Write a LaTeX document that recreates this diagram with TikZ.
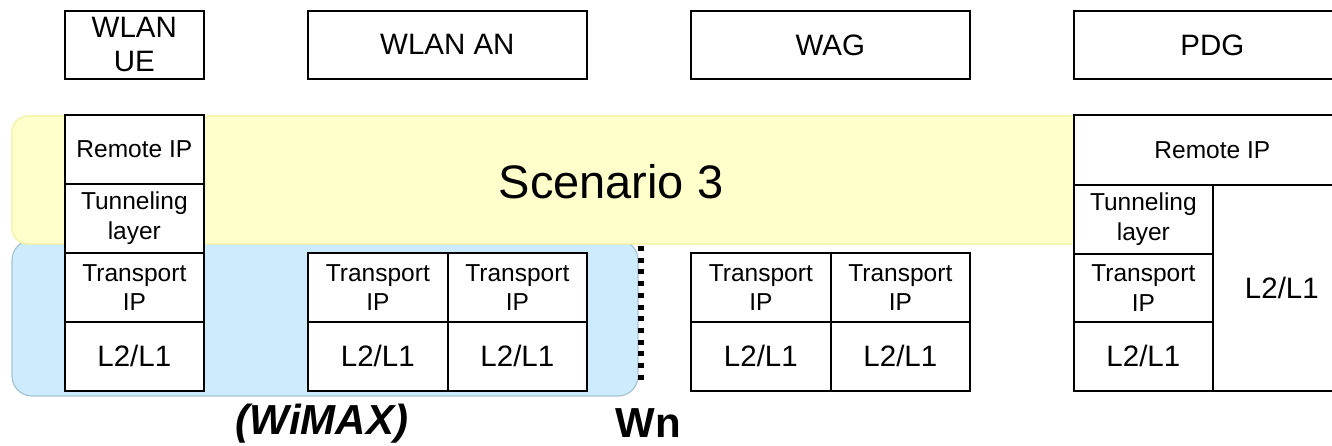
\documentclass[tikz,border=0pt]{standalone}
\usepackage{fontspec}
\setmainfont{Liberation Sans}
\newcommand\szsmall{\fontsize{24.5}{29.5}\selectfont}
\newcommand\szmid{\fontsize{29.5}{34}\selectfont}
\newcommand\szbig{\fontsize{47}{56}\selectfont}
\newcommand\szlab{\fontsize{42}{50}\selectfont\bfseries}
\definecolor{bandyellow}{HTML}{FFFFCC}
\definecolor{bandyellowline}{HTML}{F5F0A0}
\definecolor{bandblue}{HTML}{CCEBFC}
\definecolor{bandblueline}{HTML}{A9C3D3}
\begin{document}
\begin{tikzpicture}[x=1pt,y=-1pt,
  cell/.style={draw=black, line width=1.7pt, fill=white, inner sep=0pt,
    align=center, anchor=north west, font=\szsmall},
  head/.style={cell, font=\szmid},
  bigcell/.style={cell, font=\szmid}]
\useasboundingbox (0,0) rectangle (1332,446);
\clip (0,0) rectangle (1332,446);

% shaded regions
\filldraw[fill=bandblue, draw=bandblueline, line width=1.2pt, rounded corners=20pt]
  (12,240) rectangle (638,396);
\filldraw[fill=bandyellow, draw=bandyellowline, line width=1.2pt, rounded corners=16pt]
  (12,116) rectangle (1095,244);
\node[font=\szbig] (scen) at (611,182) {Scenario 3};

% entity headers
\node[head, minimum width=139pt, minimum height=68pt] (ue) at (64,10) {WLAN\\UE};
\node[head, minimum width=279pt, minimum height=68pt] (an) at (307,10) {WLAN AN};
\node[head, minimum width=279pt, minimum height=68pt] (wag) at (690,10) {WAG};
\node[head, minimum width=277pt, minimum height=68pt] (pdg) at (1073,10) {PDG};

% WLAN UE stack
\node[cell, minimum width=139pt, minimum height=69pt] (ueRip) at (64,114) {Remote IP};
\node[cell, minimum width=139pt, minimum height=69pt] (ueTun) at (64,183) {Tunneling\\layer};
\node[cell, minimum width=139pt, minimum height=69pt] (ueTip) at (64,252) {Transport\\IP};
\node[bigcell, minimum width=139pt, minimum height=69pt] (ueL2) at (64,321) {L2/L1};

% WLAN AN stacks
\node[cell, minimum width=140pt, minimum height=69pt] (anTipA) at (307,252) {Transport\\IP};
\node[bigcell, minimum width=140pt, minimum height=69pt] (anL2A) at (307,321) {L2/L1};
\node[cell, minimum width=139pt, minimum height=69pt] (anTipB) at (447,252) {Transport\\IP};
\node[bigcell, minimum width=139pt, minimum height=69pt] (anL2B) at (447,321) {L2/L1};

% WAG stacks
\node[cell, minimum width=140pt, minimum height=69pt] (wagTipA) at (690,252) {Transport\\IP};
\node[bigcell, minimum width=140pt, minimum height=69pt] (wagL2A) at (690,321) {L2/L1};
\node[cell, minimum width=139pt, minimum height=69pt] (wagTipB) at (830,252) {Transport\\IP};
\node[bigcell, minimum width=139pt, minimum height=69pt] (wagL2B) at (830,321) {L2/L1};

% PDG stack
\node[cell, minimum width=277pt, minimum height=70pt] (pdgRip) at (1073,114) {Remote IP};
\node[cell, minimum width=139pt, minimum height=69pt] (pdgTun) at (1073,184) {Tunneling\\layer};
\node[cell, minimum width=139pt, minimum height=68pt] (pdgTip) at (1073,253) {Transport\\IP};
\node[bigcell, minimum width=139pt, minimum height=69pt] (pdgL2) at (1073,321) {L2/L1};
\node[bigcell, minimum width=138pt, minimum height=206pt] (pdgNet) at (1212,184) {L2/L1};

% Wn reference point
\coordinate (wnTop) at (641,246);
\coordinate (wnBot) at (641,386);
\draw[line width=5.4pt, dash pattern=on 5pt off 6.7pt] (wnTop) -- (wnBot);
\node[font=\szlab] (wn) at (648,423) {Wn};
\node[font=\szlab\itshape] (wimax) at (322,424) {(WiMAX)};
\end{tikzpicture}
\end{document}
